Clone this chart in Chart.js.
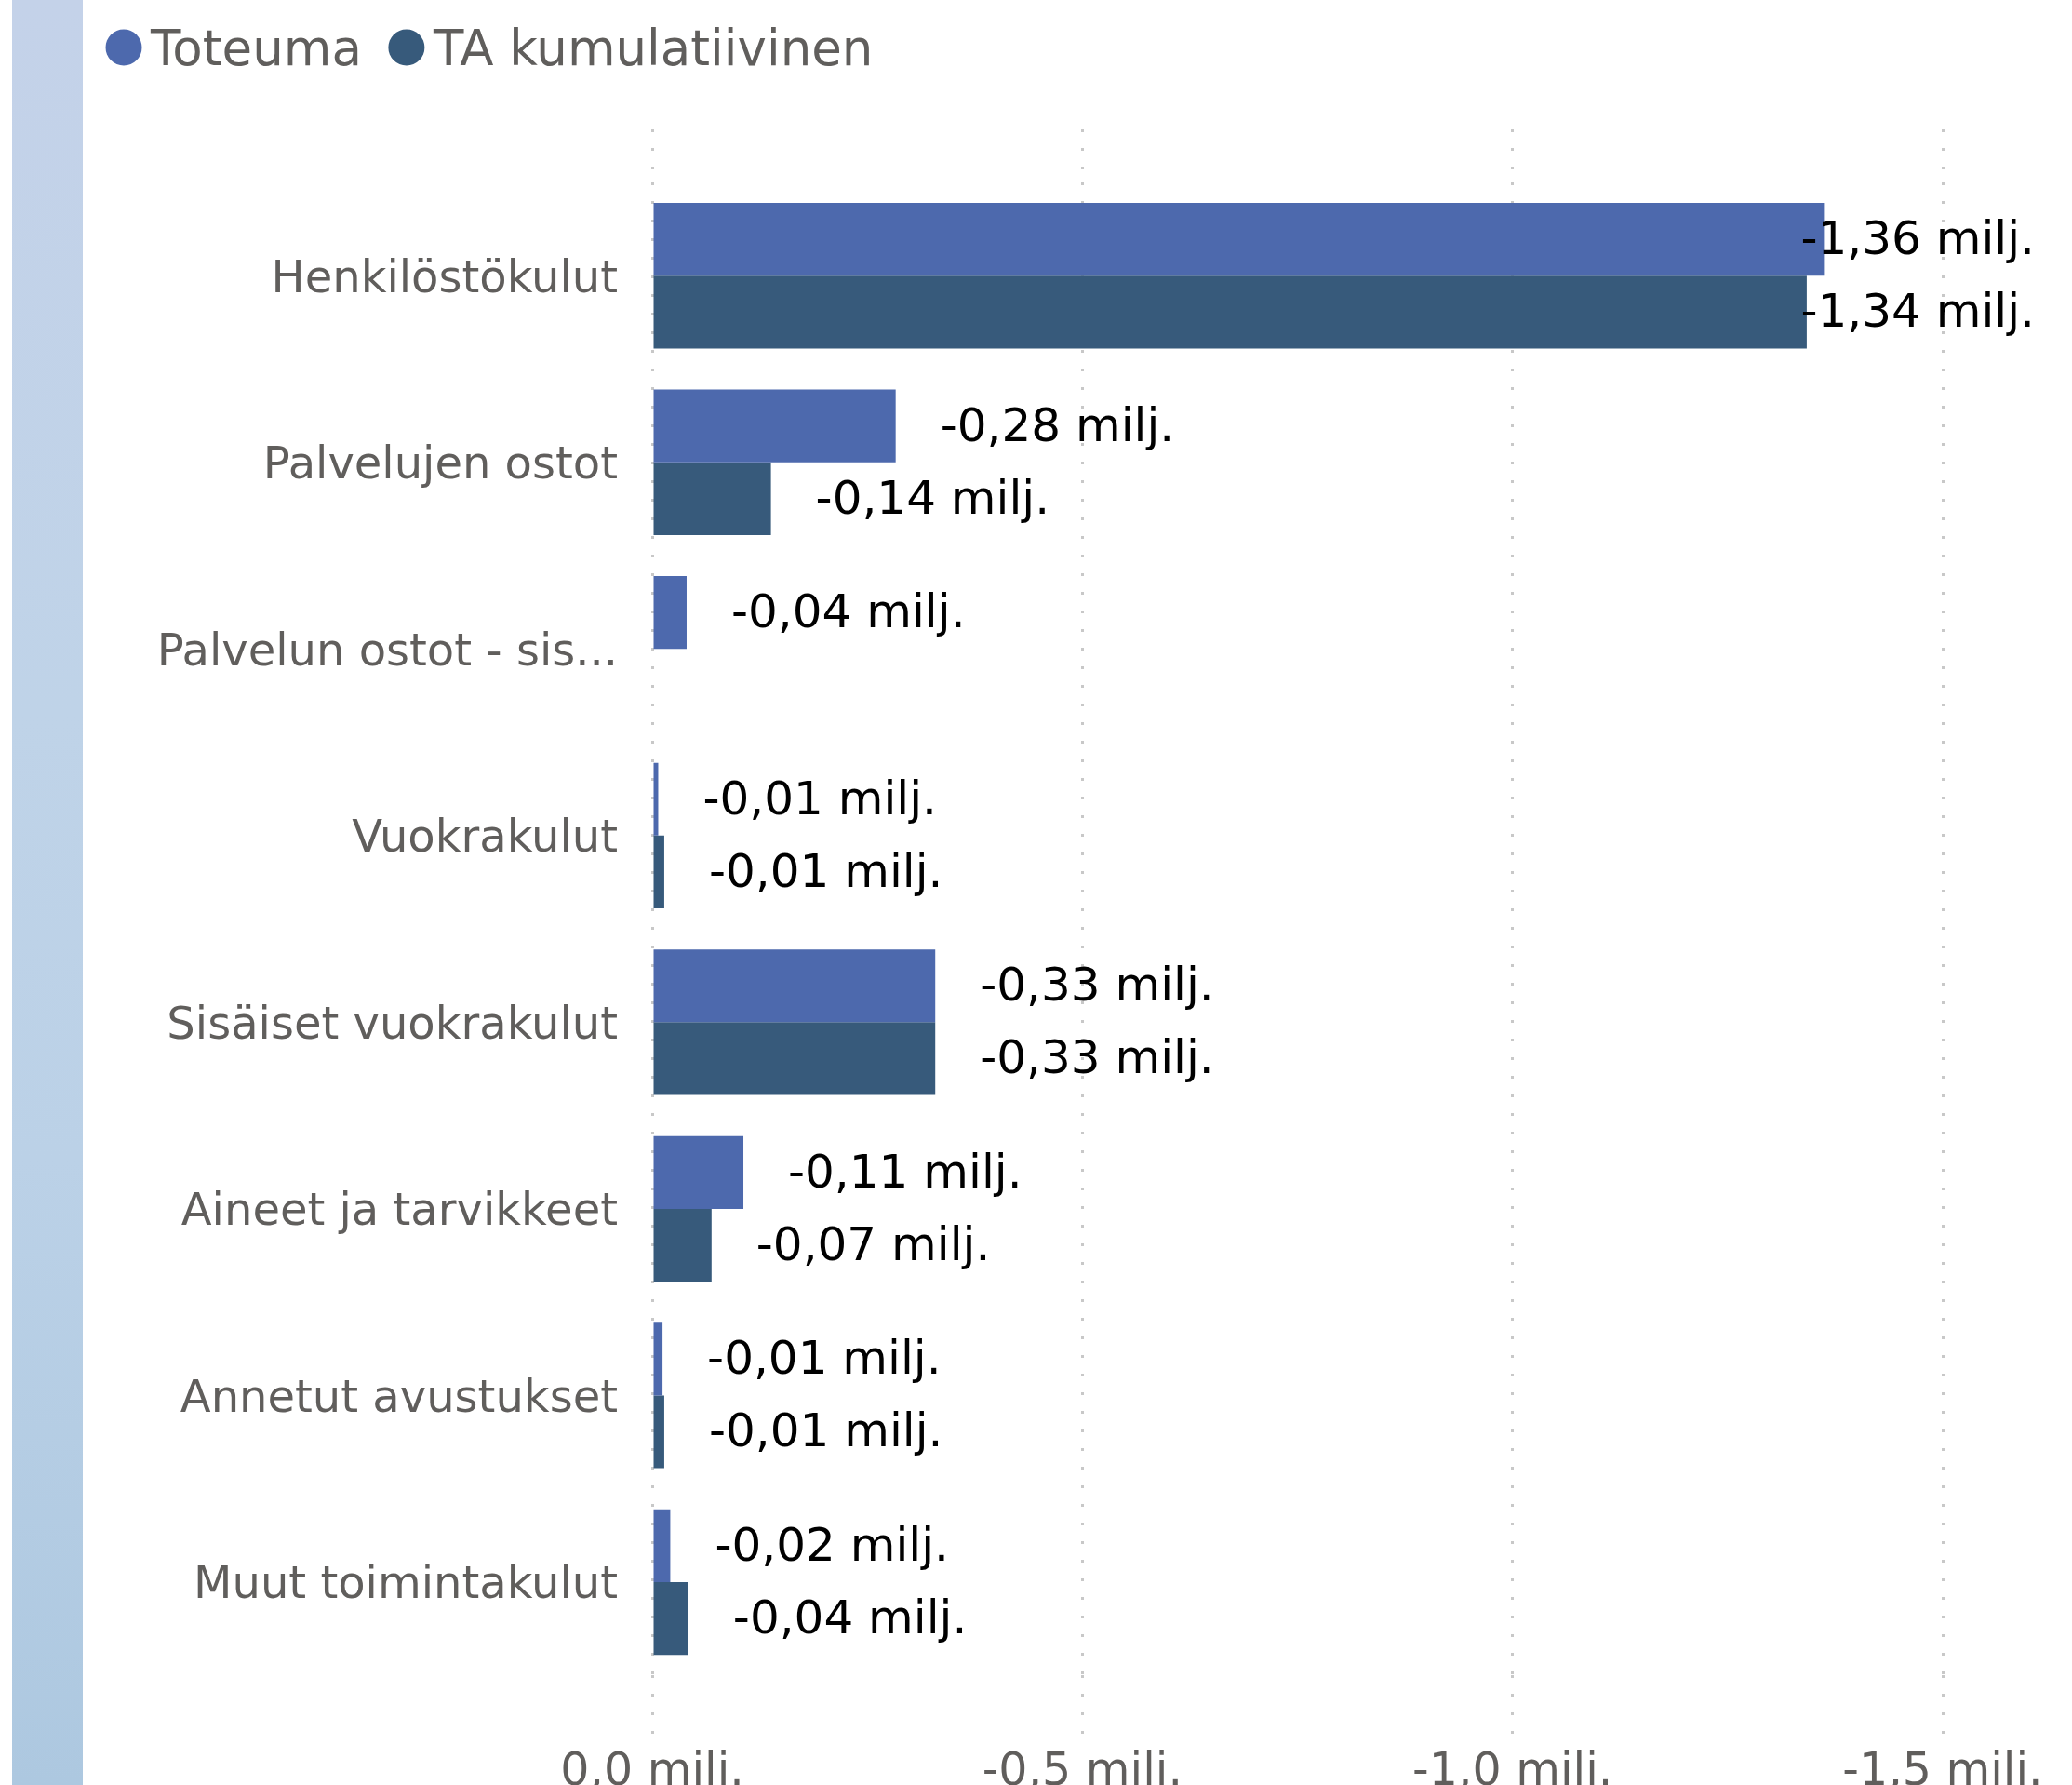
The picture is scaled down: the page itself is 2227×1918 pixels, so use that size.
<!DOCTYPE html>
<html><head><meta charset="utf-8">
<script src="https://cdn.jsdelivr.net/npm/chart.js@4"></script>
<style>
html,body{margin:0;padding:0;background:#ffffff;overflow:hidden;width:2227px;height:1918px}
#strip{position:absolute;left:13px;top:0;width:76px;height:1918px;background:linear-gradient(180deg,#c4d2e9 0%,#bfd3e8 40%,#bbd1e7 65%,#adc8e0 100%)}
#wrap{position:absolute;left:0;top:0;width:2227px;height:1948px}
</style></head><body>
<div id="strip"></div>
<div id="wrap"><canvas id="c" width="2227" height="1948"></canvas></div>
<script>
const categories = [
  'Henkilöstökulut',
  'Palvelujen ostot',
  'Palvelun ostot - sis...',
  'Vuokrakulut',
  'Sisäiset vuokrakulut',
  'Aineet ja tarvikkeet',
  'Annetut avustukset',
  'Muut toimintakulut'
];
const seriesNames = ['Toteuma', 'TA kumulatiivinen'];
const toteuma = [-1.362, -0.283, -0.040, -0.007, -0.329, -0.106, -0.012, -0.021];
const taKumulatiivinen = [-1.342, -0.138, null, -0.014, -0.329, -0.069, -0.014, -0.042];
const xTicks = [0, -0.5, -1.0, -1.5];
const seriesColors = ['#4d69ad', '#375a7b'];

const FONT = '"DejaVu Sans", sans-serif';
const GREY = '#605e5c';
Chart.defaults.font.family = FONT;

function fmtValue(v) { return v.toFixed(2).replace('.', ',') + ' milj.'; }
function fmtTick(v) { return (Math.abs(v) < 1e-9 ? 0 : v).toFixed(1).replace('.', ',') + ' milj.'; }

const valueLabels = {
  id: 'valueLabels',
  afterDatasetsDraw(chart) {
    const ctx = chart.ctx;
    ctx.save();
    ctx.font = '50px ' + FONT;
    ctx.fillStyle = '#000000';
    ctx.textBaseline = 'middle';
    ctx.textAlign = 'left';
    const limit = chart.width - 40;
    chart.data.datasets.forEach((ds, di) => {
      const meta = chart.getDatasetMeta(di);
      meta.data.forEach((el, i) => {
        const v = ds.data[i];
        if (v === null || v === undefined) return;
        const txt = fmtValue(v);
        const w = ctx.measureText(txt).width;
        let x = el.x + 48;
        if (x + w > limit) x = limit - w;
        ctx.fillText(txt, x, el.y + 3);
      });
    });
    ctx.restore();
  }
};

const topLegend = {
  id: 'topLegend',
  afterDraw(chart) {
    const ctx = chart.ctx;
    ctx.save();
    ctx.font = '53px ' + FONT;
    ctx.textBaseline = 'alphabetic';
    ctx.textAlign = 'left';
    let x = 113;
    chart.data.datasets.forEach(ds => {
      ctx.fillStyle = ds.backgroundColor;
      ctx.beginPath();
      ctx.arc(x + 20, 51, 19.5, 0, Math.PI * 2);
      ctx.fill();
      ctx.fillStyle = GREY;
      ctx.fillText(ds.label, x + 49, 70);
      x += 49 + ctx.measureText(ds.label).width + 28;
    });
    ctx.restore();
  }
};

const gridStyle = {
  color: '#c8c8c8',
  lineWidth: 3,
  tickColor: '#c8c8c8',
  tickWidth: 3,
  tickBorderDash: [3, 17]
};

new Chart(document.getElementById('c'), {
  type: 'bar',
  data: {
    labels: categories,
    datasets: [
      { label: seriesNames[0], data: toteuma, backgroundColor: seriesColors[0], barPercentage: 1, categoryPercentage: 0.78 },
      { label: seriesNames[1], data: taKumulatiivinen, backgroundColor: seriesColors[1], barPercentage: 1, categoryPercentage: 0.78 }
    ]
  },
  options: {
    indexAxis: 'y',
    responsive: false,
    animation: false,
    devicePixelRatio: 1,
    layout: { padding: { top: 139, right: 139, left: 0, bottom: 0 } },
    plugins: { legend: { display: false }, tooltip: { enabled: false } },
    scales: {
      y: {
        type: 'category',
        grid: { display: false },
        border: { display: false },
        ticks: { font: { size: 48, family: FONT }, color: GREY, padding: 29, labelOffset: 5 },
        afterFit(s) { s.width = 701; }
      },
      x: {
        type: 'linear',
        position: 'bottom',
        reverse: true,
        min: -1.5,
        max: 0,
        afterBuildTicks(s) { s.ticks = xTicks.map(v => ({ value: v })); },
        ticks: { font: { size: 49, family: FONT }, color: GREY, padding: 13, callback: v => fmtTick(v) },
        grid: Object.assign({ tickLength: 63, drawOnChartArea: true }, gridStyle),
        border: { display: false, dash: [3, 17] }
      },
      x2: {
        type: 'linear',
        position: 'top',
        reverse: true,
        min: -1.5,
        max: 0,
        afterBuildTicks(s) { s.ticks = xTicks.map(v => ({ value: v })); },
        ticks: { display: false },
        grid: Object.assign({ tickLength: 57, drawOnChartArea: false }, gridStyle),
        border: { display: false, dash: [3, 17] }
      }
    }
  },
  plugins: [valueLabels, topLegend]
});
</script>
</body></html>
